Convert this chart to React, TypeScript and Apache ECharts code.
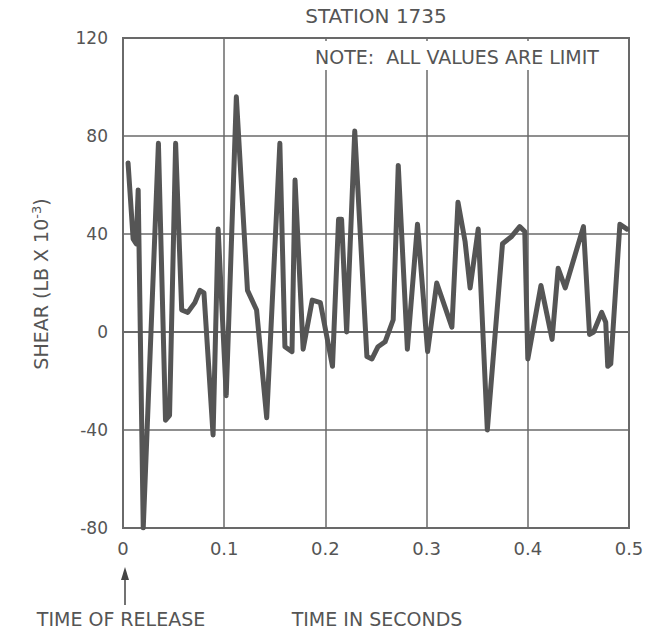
import React, { useEffect, useRef } from "react";
import * as echarts from "echarts";

const times = [
  0.005, 0.01, 0.013, 0.015, 0.02, 0.035, 0.042, 0.046, 0.052, 0.058, 0.064, 0.071, 0.076, 0.08,
  0.089, 0.094, 0.102, 0.112, 0.123, 0.132, 0.142, 0.155, 0.16, 0.167, 0.17, 0.178, 0.187,
  0.195, 0.207, 0.213, 0.216, 0.221, 0.229, 0.241, 0.246, 0.252, 0.259, 0.267, 0.272, 0.281,
  0.291, 0.301, 0.31, 0.325, 0.331, 0.338, 0.343, 0.351, 0.36, 0.375, 0.384, 0.392, 0.397,
  0.4, 0.413, 0.424, 0.43, 0.437, 0.455, 0.461, 0.465, 0.473, 0.477, 0.479, 0.482, 0.491, 0.498,
];
const shear = [
  69, 38, 36, 58, -80, 77, -36, -34, 77, 9, 8, 12, 17, 16,
  -42, 42, -26, 96, 17, 9, -35, 77, -6, -8, 62, -7, 13,
  12, -14, 46, 46, 0, 82, -10, -11, -6, -4, 5, 68, -7,
  44, -8, 20, 2, 53, 37, 18, 42, -40, 36, 39, 43, 41,
  -11, 19, -3, 26, 18, 43, -1, 0, 8, 4, -14, -13, 44, 42,
];
const xTicks = [0, 0.1, 0.2, 0.3, 0.4, 0.5];
const yTicks = [-80, -40, 0, 40, 80, 120];

const title = "STATION 1735";
const note = "NOTE:  ALL VALUES ARE LIMIT";
const yName = "SHEAR (LB X 10";
const yNameSup = "-3";
const releaseLabel = "TIME OF RELEASE";
const xName = "TIME IN SECONDS";

const FONT = "'DejaVu Sans', 'Noto Sans', sans-serif";
const TXT = "#555555";
const GRID = "#6a6a6a";

export default function App() {
  const ref = useRef<HTMLDivElement>(null);
  useEffect(() => {
    if (!ref.current) return;
    const chart = echarts.init(ref.current, null, { renderer: "svg" });
    const data = times.map((t, i) => [t, shear[i]]);
    chart.setOption({
      animation: false,
      backgroundColor: "#ffffff",
      grid: {
        left: 123,
        top: 38,
        width: 506,
        height: 490,
        show: true,
        borderColor: GRID,
        borderWidth: 2,
        backgroundColor: "transparent",
      },
      xAxis: {
        type: "value",
        min: xTicks[0],
        max: xTicks[xTicks.length - 1],
        interval: 0.1,
        axisLine: { show: true, lineStyle: { color: GRID, width: 2 } },
        axisTick: { show: false },
        splitLine: { show: true, lineStyle: { color: GRID, width: 1.5 } },
        axisLabel: {
          color: TXT,
          fontFamily: FONT,
          fontSize: 18,
          margin: 11,
          formatter: (v: number) => (v === 0 ? "0" : v.toFixed(1)),
        },
      },
      yAxis: {
        type: "value",
        min: yTicks[0],
        max: yTicks[yTicks.length - 1],
        interval: 40,
        axisLine: { show: true, lineStyle: { color: GRID, width: 2 } },
        axisTick: { show: false },
        splitLine: { show: true, lineStyle: { color: GRID, width: 1.5 } },
        axisLabel: { color: TXT, fontFamily: FONT, fontSize: 17, margin: 15 },
      },
      series: [
        {
          type: "line",
          data,
          showSymbol: false,
          lineStyle: { color: "#555555", width: 5, join: "round", cap: "round" },
          z: 3,
        },
      ],
      graphic: [
        {
          type: "text",
          x: 376,
          y: 16,
          style: { text: title, fill: TXT, font: `20px ${FONT}`, align: "center", verticalAlign: "middle" },
        },
        {
          type: "rect",
          shape: { x: 292, y: 41, width: 334, height: 29 },
          style: { fill: "#ffffff" },
          z: 10,
        },
        {
          type: "text",
          x: 457,
          y: 57,
          z: 11,
          style: { text: note, fill: TXT, font: `19px ${FONT}`, align: "center", verticalAlign: "middle" },
        },
        {
          type: "text",
          x: 41,
          y: 284,
          rotation: Math.PI / 2,
          style: {
            text: `{m|${yName}}{s|${yNameSup}}{m|)}`,
            fill: TXT,
            align: "center",
            verticalAlign: "middle",
            rich: {
              m: { fontSize: 19, fontFamily: FONT, fill: TXT },
              s: { fontSize: 13, fontFamily: FONT, fill: TXT, verticalAlign: "top", padding: [0, 0, 10, 0] },
            },
          },
        },
        {
          type: "line",
          shape: { x1: 125, y1: 605, x2: 125, y2: 576 },
          style: { stroke: "#444", lineWidth: 1.5 },
        },
        {
          type: "polygon",
          shape: { points: [[125, 567], [121, 580], [129, 580]] },
          style: { fill: "#444" },
        },
        {
          type: "text",
          x: 121,
          y: 619,
          style: { text: releaseLabel, fill: TXT, font: `19px ${FONT}`, align: "center", verticalAlign: "middle" },
        },
        {
          type: "text",
          x: 377,
          y: 619,
          style: { text: xName, fill: TXT, font: `19px ${FONT}`, align: "center", verticalAlign: "middle" },
        },
      ],
    });
    return () => chart.dispose();
  }, []);
  return (
    <div
      ref={ref}
      style={{ position: "fixed", left: 0, top: 0, width: 655, height: 635, background: "#fff" }}
    />
  );
}
